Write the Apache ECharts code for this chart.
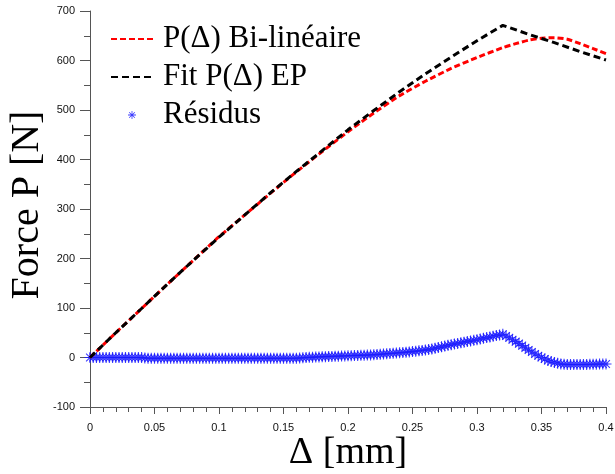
<!DOCTYPE html>
<html>
<head>
<meta charset="utf-8">
<script src="https://cdn.jsdelivr.net/npm/echarts@6/dist/echarts.min.js"></script>
<style>html,body{margin:0;padding:0;background:#fff}#c{width:615px;height:474px}</style>
</head>
<body>
<div id="c"></div>
<script>
// ---- data ----
const seriesNames = ['P(\u0394) Bi-lin\u00e9aire', 'Fit P(\u0394) EP', 'R\u00e9sidus'];

const bilinX = [0,0.02,0.04,0.06,0.08,0.10,0.12,0.14,0.16,0.18,0.20,0.22,0.24,0.26,0.28,0.30,0.32,0.33,0.34,0.35,0.36,0.37,0.38,0.39,0.40];
const bilinY = [0,50,99,148,196,244,288,332,375,416,456,494,529,558,584,606,626,634,641,645,646,643,634,624,614];

const fitX = [0,0.02,0.04,0.06,0.08,0.10,0.12,0.14,0.16,0.18,0.20,0.22,0.24,0.26,0.28,0.30,0.32,0.34,0.36,0.38,0.40];
const fitY = [0,50,99,148,196,243,288,333,376,418,460,499,537,573,607,640,671,653,636,618,601];

const residStartX = 0, residStepX = 0.0025;
const residY = [
  0,0,0,0,0,0,0,0,0,0,0,0,0,0,0,0,0,
  -1,-1.5,-1.5,-1.5,-1.5,-1.5,-1.5,-1.5,-1.5,-1.5,-1.5,-1.5,-1.5,-1.5,-1.5,-1.5,
  -1.5,-1.5,-1.5,-1.5,-1.5,-1.5,-1.5,-1.5,-1.5,-1.5,-1.5,-1.5,-1.5,-1.5,-1.5,-1.5,
  -1.5,-1.5,-1.5,-1.5,-1.5,-1.5,-1.5,-1.5,-1.5,-1.5,-1.5,-1.5,-1.5,-1.5,-1.5,-1.5,
  -1,-0.5,0,0.3,0.6,0.9,1.2,1.5,
  1.7,2,2.2,2.5,2.7,3,3.2,3.5,
  3.7,4,4.2,4.5,4.7,5,5.2,5.5,
  6,6.5,7,7.5,8,8.5,9,9.5,
  10,10.6,11.3,12,12.7,13.5,14.2,15,
  16.2,17.4,18.7,20,21.5,23,24.5,26,
  27.2,28.5,29.7,31,32.2,33.5,34.7,36,
  37.4,38.8,40.2,41.5,43,44.3,45.7,47,
  43.5,40,36,32,28,24,19.5,15,
  11,7,3.5,0,-3,-6,-8,-10,
  -11.5,-13,-13.5,-14,-14,-14,-14,-14,
  -14,-14,-13.5,-13.5,-13.5,-13,-13,-13
];

const xMin = 0, xMax = 0.4, xInterval = 0.05;
const yMin = -100, yMax = 700, yInterval = 100;
const xName = '\u0394 [mm]';
const yName = 'Force P [N]';

// ---- build ----
const pairs = (xs, ys) => xs.map((x, i) => [x, ys[i]]);
const residData = residY.map((v, i) => [residStartX + i * residStepX, v]);

const asterisk = 'path://M-1,-10 L1,-10 L1,10 L-1,10 Z M-10,-1 L10,-1 L10,1 L-10,1 Z ' +
  'M-7.8,-6.4 L-6.4,-7.8 L7.8,6.4 L6.4,7.8 Z M6.4,-7.8 L7.8,-6.4 L-6.4,7.8 L-7.8,6.4 Z';

const tickFont = {fontFamily: 'Liberation Sans, Arial, sans-serif', fontSize: 11, color: '#111'};
const axisGray = '#555';
const serif = 'Liberation Serif, Times New Roman, serif';

const chart = echarts.init(document.getElementById('c'), null, {renderer: 'canvas'});
chart.setOption({
  animation: false,
  backgroundColor: '#fff',
  grid: {left: 90, right: 9, top: 11, bottom: 67, containLabel: false, outerBoundsMode: 'none'},
  legend: {
    orient: 'vertical', left: 105, top: 18, itemGap: 6,
    itemWidth: 42, itemHeight: 8,
    data: [
      {name: seriesNames[0], itemStyle: {opacity: 0}},
      {name: seriesNames[1], itemStyle: {opacity: 0}},
      {name: seriesNames[2]}
    ],
    textStyle: {fontFamily: serif, fontSize: 31, color: '#000', padding: [0,0,0,5], lineHeight: 32}
  },
  xAxis: {
    type: 'value', min: xMin, max: xMax, interval: xInterval,
    name: xName, nameLocation: 'middle', nameGap: 27, nameMoveOverlap: false,
    nameTextStyle: {fontFamily: serif, fontSize: 38, color: '#000'},
    axisLine: {show: true, onZero: false, lineStyle: {color: axisGray, width: 1}},
    axisTick: {show: true, length: 7, lineStyle: {color: axisGray}},
    minorTick: {show: true, splitNumber: 5, length: 5, lineStyle: {color: axisGray}},
    splitLine: {show: false},
    axisLabel: Object.assign({margin: 15}, tickFont)
  },
  yAxis: {
    type: 'value', min: yMin, max: yMax, interval: yInterval,
    name: yName, nameLocation: 'middle', nameGap: 43, nameRotate: 90, nameMoveOverlap: false,
    nameTextStyle: {fontFamily: serif, fontSize: 40, color: '#000', padding: [0,0,0,8]},
    axisLine: {show: true, onZero: false, lineStyle: {color: axisGray, width: 1}},
    axisTick: {show: true, length: 10, lineStyle: {color: axisGray}},
    minorTick: {show: true, splitNumber: 2, length: 6, lineStyle: {color: axisGray}},
    splitLine: {show: false},
    axisLabel: Object.assign({margin: 15}, tickFont)
  },
  series: [
    {
      name: seriesNames[0], type: 'line', data: pairs(bilinX, bilinY),
      symbol: 'none', smooth: 0.2, z: 3,
      lineStyle: {color: '#ff0000', width: 3, type: [6, 3]},
      itemStyle: {color: '#ff0000'}
    },
    {
      name: seriesNames[1], type: 'line', data: pairs(fitX, fitY),
      symbol: 'none', z: 4,
      lineStyle: {color: '#000000', width: 3, type: [7, 4]},
      itemStyle: {color: '#000000'}
    },
    {
      name: seriesNames[2], type: 'scatter', data: residData,
      symbol: asterisk, symbolSize: 11, z: 2,
      itemStyle: {color: '#1a1aff', opacity: 0.85}
    }
  ]
});
</script>
</body>
</html>
